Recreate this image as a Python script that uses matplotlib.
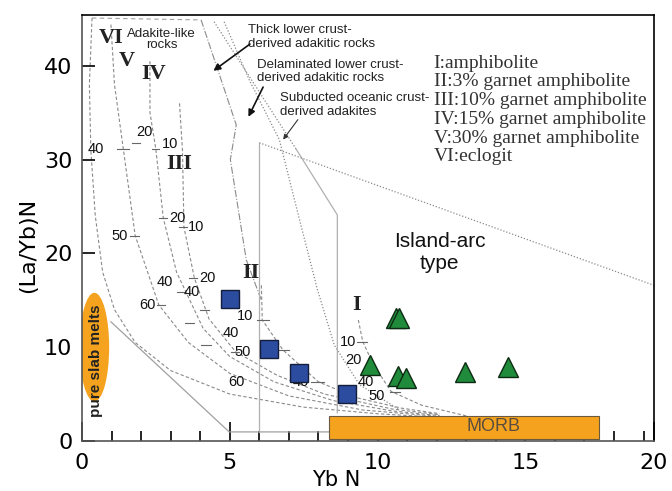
import matplotlib.pyplot as plt
from matplotlib.patches import Ellipse, Rectangle

# samples
sq_x = [5.01, 6.34, 7.33, 8.97]
sq_y = [15.1, 9.8, 7.2, 5.0]
tri_x = [10.63, 10.72, 9.73, 10.69, 10.95, 12.97, 14.40]
tri_y = [13.1, 13.1, 8.1, 6.9, 6.7, 7.3, 7.9]

# melting curves (I-VI)
curve_VI = [(0.34, 45.1), (0.25, 38), (0.3, 31), (0.45, 24), (0.7, 18), (1.1, 14), (1.8, 10.5),
            (3.0, 7.5), (5.0, 5.0), (7.5, 3.6), (10.0, 2.9), (12.1, 2.5)]
curve_V = [(0.98, 44.4), (1.1, 38), (1.4, 31.1), (1.8, 21.9), (2.6, 14.5), (3.6, 10.5),
           (5.0, 7.2), (7.0, 4.8), (9.5, 3.3), (12.1, 2.6)]
curve_IV = [(2.3, 40.5), (2.3, 35), (2.5, 31.1), (2.75, 23.8), (3.2, 18), (4.1, 12), (5.0, 9),
            (6.5, 6.3), (8.5, 4.3), (10.5, 3.2), (12.1, 2.7)]
curve_III = [(3.3, 36), (3.4, 31), (3.45, 22.8), (3.8, 17.4), (4.3, 13), (5.2, 9.5), (6.6, 7.0),
             (8.2, 5.0), (10.5, 3.4), (12.1, 2.8)]
curve_II = [(6.07, 16.6), (6.1, 12.9), (6.8, 9.7), (8.0, 6.3), (9.3, 4.6), (10.8, 3.5), (12.1, 2.9)]
curve_I = [(9.35, 12.9), (9.5, 10.6), (9.85, 8.2), (10.45, 5.3), (11.5, 3.8), (13.1, 2.6)]

# field boundaries
top_edge = [(0.34, 45.1), (4.03, 44.9)]
line_thick = [(4.03, 44.9), (5.22, 33.7), (5.02, 30.0), (5.56, 19.3), (6.07, 15.0)]
line_delam = [(4.81, 44.7), (5.66, 38.5), (6.68, 32.1), (7.36, 23.6), (7.97, 16.1), (8.54, 10.2),
              (9.39, 6.0), (10.75, 3.3)]
line_subd_top = [(4.47, 44.7), (7.25, 31.1)]
line_subd = [(7.25, 31.1), (8.64, 24.1), (8.64, 3.0)]
arc_left = [(6.0, 31.8), (6.0, 0.96)]
arc_top = [(6.0, 31.8), (19.35, 16.6)]
base_line = [(0.98, 12.7), (4.98, 0.96), (8.64, 0.96)]

# melt-fraction marks: label, label pos, tick segment
mark_txt = ['40', '20', '10', '50', '20', '10', '40', '20', '40', '60',
            '10', '40', '50', '60', '20', '40', '10', '20', '40', '50']
mark_x = [0.47, 2.10, 2.98, 1.29, 3.22, 3.86, 2.81, 4.24, 3.73, 2.2,
          5.53, 5.02, 5.42, 5.22, 6.27, 7.42, 9.02, 9.19, 9.59, 9.97]
mark_y = [31.1, 32.9, 31.7, 21.9, 23.8, 22.8, 17.0, 17.4, 15.9, 14.5,
          13.3, 11.5, 9.5, 6.3, 9.7, 6.3, 10.6, 8.6, 6.3, 4.8]
tick_x0 = [1.19, 1.69, 2.37, 1.63, 2.61, 3.29, 3.22, 3.63, 5.93, 5.05, 6.61, 7.76, 9.32, 10.41,
           2.54, 3.98, 3.47, 4.03]
tick_x1 = [1.59, 1.97, 2.61, 1.93, 2.88, 3.56, 3.49, 3.90, 6.34, 5.32, 7.02, 8.2, 9.63, 10.75,
           2.81, 4.31, 3.8, 4.37]
tick_y = [31.1, 31.8, 31.1, 21.9, 23.8, 22.8, 15.9, 17.4, 12.9, 9.5, 9.7, 6.3, 10.6, 5.2,
          14.5, 14.0, 12.6, 10.2]

roman = ['VI', 'V', 'IV', 'III', 'II', 'I']
roman_x = [0.98, 1.5, 2.41, 3.29, 5.73, 9.29]
roman_y = [43.0, 40.5, 39.1, 29.5, 17.9, 14.5]

legend_lines = ['I:amphibolite', 'II:3% garnet amphibolite', 'III:10% garnet amphibolite',
                'IV:15% garnet amphibolite', 'V:30% garnet amphibolite', 'VI:eclogit']

fig = plt.figure(figsize=(6.72, 4.91), dpi=100)
ax = fig.add_axes([0.122, 0.102, 0.851, 0.867])
plt.rcParams['font.family'] = ['Liberation Sans', 'DejaVu Sans']

grey = '#8a8a8a'
for c in [curve_VI, curve_V, curve_IV, curve_III, curve_II, curve_I]:
    ax.plot([p[0] for p in c], [p[1] for p in c], color=grey, lw=0.8, ls=(0, (3, 2)), zorder=1)

ax.plot([p[0] for p in top_edge], [p[1] for p in top_edge], color='#a0a0a0', lw=0.8, ls=(0, (4, 3)))
ax.plot([p[0] for p in line_thick], [p[1] for p in line_thick], color=grey, lw=0.8, ls='-.')
ax.plot([p[0] for p in line_delam], [p[1] for p in line_delam], color=grey, lw=0.9, ls=(0, (1, 1.5)))
ax.plot([p[0] for p in line_subd_top], [p[1] for p in line_subd_top], color=grey, lw=0.9, ls=(0, (1, 1.5)))
ax.plot([p[0] for p in line_subd], [p[1] for p in line_subd], color='#b0b0b0', lw=0.9)
ax.plot([p[0] for p in arc_left], [p[1] for p in arc_left], color='#b0b0b0', lw=0.9)
ax.plot([p[0] for p in arc_top], [p[1] for p in arc_top], color=grey, lw=0.9, ls=(0, (1, 1.5)))
ax.plot([p[0] for p in base_line], [p[1] for p in base_line], color='#a0a0a0', lw=0.9)

for x0, x1, y in zip(tick_x0, tick_x1, tick_y):
    ax.plot([x0, x1], [y, y], color='#666666', lw=0.8)
for t, x, y in zip(mark_txt, mark_x, mark_y):
    ax.text(x, y, t, fontsize=10.5, ha='center', va='center', color='#111111')

for t, x, y in zip(roman, roman_x, roman_y):
    ax.text(x, y, t, fontsize=16, fontweight='bold', family='Liberation Serif',
            ha='center', va='center', color='#222222')

for i, t in enumerate(legend_lines):
    ax.text(11.9, 40.3 - i * 2.0, t, fontsize=14, family='Liberation Serif',
            ha='left', va='center', color='#333333')

# field names and arrows
ax.text(2.7, 42.8, 'Adakite-like\nrocks', fontsize=9.5, ha='center', va='center',
        linespacing=0.95, color='#222222')
ax.text(5.63, 43.1, 'Thick lower crust-\nderived adakitic rocks', fontsize=9.5,
        ha='left', va='center', color='#222222')
ax.text(5.93, 39.4, 'Delaminated lower crust-\nderived adakitic rocks', fontsize=9.5,
        ha='left', va='center', color='#222222')
ax.text(6.71, 35.8, 'Subducted oceanic crust-\nderived adakites', fontsize=9.5,
        ha='left', va='center', color='#222222')
arrow = dict(arrowstyle='-|>', color='#111111', lw=1.2, mutation_scale=10)
ax.annotate('', xy=(4.37, 39.3), xytext=(5.76, 42.5), arrowprops=arrow)
ax.annotate('', xy=(5.59, 34.3), xytext=(6.17, 38.0), arrowprops=arrow)
ax.annotate('', xy=(6.75, 31.9), xytext=(7.36, 34.5),
            arrowprops=dict(arrowstyle='-|>', color='#333333', lw=0.8, mutation_scale=7))

ax.text(12.1, 20.1, 'Island-arc\ntype', fontsize=15, ha='center', va='center', color='#111111')

# MORB and pure slab melts
ax.add_patch(Rectangle((8.35, 0.18), 17.49 - 8.35, 2.52, facecolor='#f5a31e',
                       edgecolor='#6b5a40', lw=0.8, zorder=2))
ax.text(13.93, 1.5, 'MORB', fontsize=13, ha='center', va='center', color='#5b4d3d', zorder=3)
ax.add_patch(Ellipse((0.42, 10.0), 1.0, 11.6, facecolor='#f5a31e', edgecolor='none', zorder=2))
ax.text(0.47, 8.6, 'pure slab melts', rotation=90, fontsize=11, fontweight='bold',
        ha='center', va='center', color='#222222', zorder=3)

ax.plot(sq_x, sq_y, ls='none', marker='s', ms=13, mfc='#2b4c9f', mec='#141e3c', mew=1.0, zorder=4)
ax.plot(tri_x, tri_y, ls='none', marker='^', ms=15, mfc='#1f8b3b', mec='#0d2a12', mew=1.0, zorder=4)

ax.set_xlim(0, 19.35)
ax.set_ylim(0, 45.4)
ax.set_xticks([0, 5, 10, 15, 19.35])
ax.set_xticklabels(['0', '5', '10', '15', '20'])
ax.set_xticks(range(1, 20), minor=True)
ax.set_yticks([0, 10, 20, 30, 40])
ax.tick_params(axis='x', which='major', direction='in', length=14, width=1.2, labelsize=16, pad=9)
ax.tick_params(axis='x', which='minor', direction='in', length=7, width=1.2)
ax.tick_params(axis='y', direction='in', length=9, width=1.2, labelsize=16, pad=7)
for s in ax.spines.values():
    s.set_linewidth(1.2)
ax.spines['left'].set_color('#555555')
ax.spines['bottom'].set_color('#555555')

ax.set_xlabel('Yb N', fontsize=15)
ax.set_ylabel('(La/Yb)N', fontsize=16)
ax.xaxis.set_label_coords(0.445, -0.068)
ax.yaxis.set_label_coords(-0.077, 0.46)

fig.savefig('out.png', dpi=100)
